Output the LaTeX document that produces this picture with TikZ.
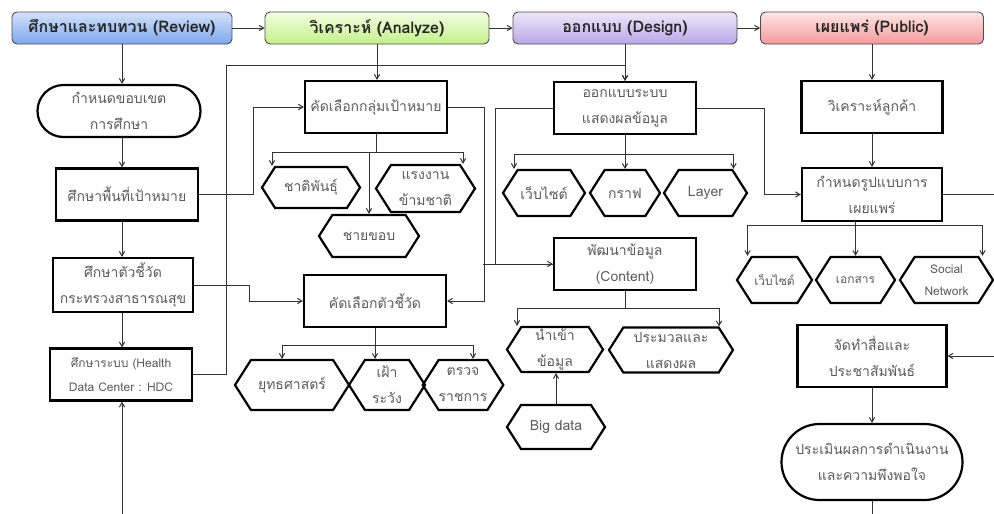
\documentclass[tikz,border=0pt]{standalone}
\usepackage{fontspec}
\setmainfont[Script=Thai]{Loma}
\usetikzlibrary{positioning,arrows,shapes.symbols,shapes.misc}
\definecolor{txtgray}{HTML}{5A5A5A}
\definecolor{revtop}{HTML}{D3E2FB}
\definecolor{revbot}{HTML}{7EA7EE}
\definecolor{anatop}{HTML}{F3FFE2}
\definecolor{anabot}{HTML}{C4F08A}
\definecolor{destop}{HTML}{EEE8FA}
\definecolor{desbot}{HTML}{B8A7E8}
\definecolor{pubtop}{HTML}{FFE6E6}
\definecolor{pubbot}{HTML}{F49A9A}

\begin{document}
\begin{tikzpicture}[x=1pt,y=-1pt,>=angle 60,
	every node/.style={inner sep=0pt, align=center, text=txtgray, font=\fontsize{14}{26}\selectfont},
	head/.style={draw=black!70, line width=0.9pt, rounded corners=5pt, minimum height=32pt, font=\fontsize{16}{20}\selectfont\bfseries, text=black!85},
	box/.style={draw=black, line width=2.2pt, minimum width=142pt, minimum height=52pt},
	term/.style={draw=black, line width=2.2pt, rounded rectangle},
	hexa/.style={draw=black, line width=2.2pt, signal, signal to=west and east, signal pointer angle=115, minimum height=44pt},
	link/.style={draw=black!80, line width=1pt}]
		\useasboundingbox (0,0) rectangle (994,514);
		% header row
		\node [head, top color=revtop, bottom color=revbot, minimum width=220pt] (rev) at (122,28) {ศึกษาและทบทวน (Review)};
		\node [head, top color=anatop, bottom color=anabot, minimum width=224pt] (ana) at (377,28) {วิเคราะห์ (Analyze)};
		\node [head, top color=destop, bottom color=desbot, minimum width=224pt] (des) at (625,28) {ออกแบบ (Design)};
		\node [head, top color=pubtop, bottom color=pubbot, minimum width=223pt] (pub) at (872,28) {เผยแพร่ (Public)};
		\draw [link,->] (rev) -- (ana);
		\draw [link,->] (ana) -- (des);
		\draw [link,->] (des) -- (pub);
		% review
		\node [term, minimum width=163pt, minimum height=52pt] (scope) at (119,111) {กำหนดขอบเขต\\การศึกษา};
		\node [box] (area) at (127,194.5) {ศึกษาพื้นที่เป้าหมาย};
		\node [box, minimum width=140pt, minimum height=54pt] (kpi) at (123,285) {ศึกษาตัวชี้วัด\\กระทรวงสาธารณสุข};
		\node [box, font=\fontsize{12}{24}\selectfont] (hdc) at (121,374.5) {ศึกษาระบบ (Health\\Data Center : HDC};
		\coordinate (inL) at (122,514);
		\draw [link,->] (rev) -- (rev |- scope.north);
		\draw [link,->] (rev |- scope.south) -- (rev |- area.north);
		\draw [link,->] (rev |- area.south) -- (rev |- kpi.north);
		\draw [link,->] (rev |- kpi.south) -- (rev |- hdc.north);
		\draw [link,->] (inL) -- (inL |- hdc.south);
		% analyze
		\node [box] (sel1) at (376,107) {คัดเลือกกลุ่มเป้าหมาย};
		\node [hexa, minimum width=98pt, minimum height=41pt] (eth) at (311,187.5) {ชาติพันธุ์};
		\node [hexa, minimum width=99pt, minimum height=47pt] (mig) at (425.5,188.5) {แรงงาน\\ข้ามชาติ};
		\node [hexa, minimum width=100pt, minimum height=42pt] (mar) at (369,236) {ชายขอบ};
		\node [box] (sel2) at (375,301) {คัดเลือกตัวชี้วัด};
		\node [hexa, minimum width=114pt, minimum height=50pt] (str) at (292,385) {ยุทธศาสตร์};
		\node [hexa, minimum width=76pt, minimum height=50pt] (sur) at (387,385) {เฝ้า\\ระวัง};
		\node [hexa, minimum width=76pt, minimum height=50pt] (insp) at (463,385) {ตรวจ\\ราชการ};
		\draw [link,->] (ana) -- (ana |- sel1.north);
		\coordinate (b1) at ([yshift=-18pt]sel1.south);
		\draw [link] (sel1.south) -- (b1);
		\draw [link,->] (b1) -| ([xshift=-39pt]eth.north);
		\draw [link,->] (b1) -| ([xshift=37.5pt]mig.north);
		\draw [link,->] (b1) -| (mar.north);
		\coordinate (b2) at ([yshift=-17pt]sel2.south);
		\draw [link] (sel2.south) -- (b2);
		\draw [link,->] (b2) -| ([xshift=-10pt]str.north);
		\draw [link,->] (b2) -| ([xshift=-12pt]sur.north);
		\draw [link,->] (b2) -| ([xshift=10pt]insp.north);
		\draw [link,->] (area.east) -- ++(54,0) |- (sel1.west);
		\draw [link,->] (kpi.east) -- ++(55,0) |- (sel2.west);
		\draw [link,->] (sel1.east) -- ++(36,0) |- (sel2.east);
		% design
		\node [box] (dsys) at (625,108) {ออกแบบระบบ\\แสดงผลข้อมูล};
		\node [hexa, minimum width=82pt, minimum height=46pt] (web1) at (544,193) {เว็บไซต์};
		\node [hexa, minimum width=70pt, minimum height=46pt] (graph) at (625,193) {กราฟ};
		\node [hexa, minimum width=83pt, minimum height=46pt] (layer) at (705.5,193) {Layer};
		\node [box] (content) at (625,264) {พัฒนาข้อมูล\\(Content)};
		\node [hexa, minimum width=96pt, minimum height=45pt] (imp) at (555,349.5) {นำเข้า\\ข้อมูล};
		\node [hexa, minimum width=124pt, minimum height=45pt] (proc) at (671,350) {ประมวลและ\\แสดงผล};
		\node [hexa, minimum width=98pt, minimum height=44pt] (big) at (556,427) {Big data};
		\coordinate (hdcup) at (226,65);
		\draw [link,->] (hdc.east) -| (hdcup) -| (dsys.north);
		\draw [link,->] (des) -- (des |- dsys.north);
		\coordinate (b3) at ([yshift=-19pt]dsys.south);
		\draw [link] (dsys.south) -- (b3);
		\draw [link,->] (b3) -| ([xshift=-30pt]web1.north);
		\draw [link,->] (b3) -| (graph.north);
		\draw [link,->] (b3) -| ([xshift=28pt]layer.north);
		\coordinate (jn) at (483,264);
		\draw [link,->] (jn) -- (content.west);
		\draw [link] (dsys.west) -- ++(-57,0) |- (content.west);
		\coordinate (b4) at ([yshift=-17pt]content.south);
		\draw [link] (content.south) -- (b4);
		\draw [link,->] (b4) -| ([xshift=-38pt]imp.north);
		\draw [link,->] (b4) -| ([xshift=48pt]proc.north);
		\draw [link,->] (big.north) -- (big.north |- imp.south);
		% public
		\node [box, minimum width=141pt] (cust) at (872,107) {วิเคราะห์ลูกค้า};
		\node [box, minimum width=140pt, minimum height=53pt] (fmt) at (872,194.5) {กำหนดรูปแบบการ\\เผยแพร่};
		\node [hexa, minimum width=75pt, minimum height=46pt, font=\fontsize{12}{24}\selectfont] (web2) at (774.5,280) {เว็บไซต์};
		\node [hexa, minimum width=79pt, minimum height=46pt, font=\fontsize{12}{24}\selectfont] (doc) at (855.5,280) {เอกสาร};
		\node [hexa, minimum width=93pt, minimum height=46pt, font=\fontsize{12}{22}\selectfont] (soc) at (946.5,280) {Social\\Network};
		\node [box, minimum width=149pt, minimum height=62pt] (media) at (872,356) {จัดทำสื่อและ\\ประชาสัมพันธ์};
		\node [term, minimum width=181pt, minimum height=76pt] (eval) at (872,462) {ประเมินผลการดำเนินงาน\\และความพึงพอใจ};
		\draw [link,->] (pub) -- (pub |- cust.north);
		\draw [link,->] (cust) -- (fmt);
		\draw [link,->] (dsys.east) -- ++(67,0) |- (fmt.west);
		\coordinate (b5) at ([yshift=-3pt]fmt.south);
		\draw [link,->] (b5) -| ([xshift=-27pt]web2.north);
		\draw [link,->] (b5) -| ([xshift=36pt]soc.north);
		\draw [link,->] (doc.north |- fmt.south) -- (doc.north);
		\coordinate (outR) at (994,194.5);
		\coordinate (inR) at (994,356);
		\coordinate (outB) at (872,514);
		\draw [link] (fmt.east) -- (outR);
		\draw [link,->] (inR) -- (media.east);
		\draw [link,->] (media) -- (eval);
		\draw [link] (eval.south) -- (outB);
\end{tikzpicture}
\end{document}
